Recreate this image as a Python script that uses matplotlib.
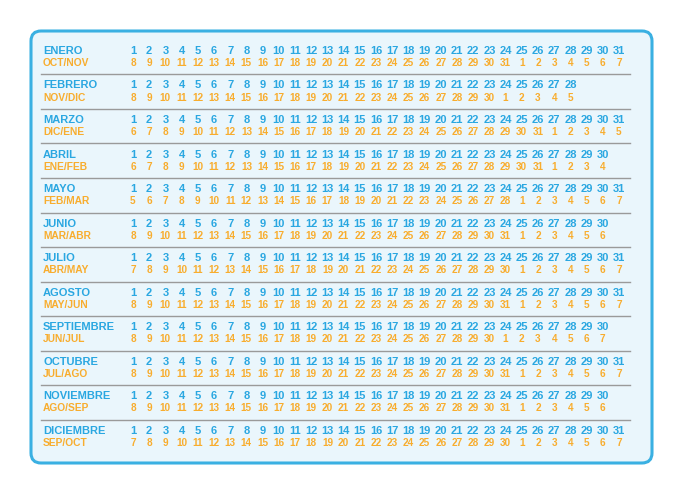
import matplotlib
matplotlib.use("Agg")
import matplotlib.pyplot as plt
from matplotlib.patches import FancyBboxPatch

plt.rcParams['font.family'] = ['Liberation Sans', 'DejaVu Sans']

months = ["ENERO", "FEBRERO", "MARZO", "ABRIL", "MAYO", "JUNIO", "JULIO",
          "AGOSTO", "SEPTIEMBRE", "OCTUBRE", "NOVIEMBRE", "DICIEMBRE"]
due_months = ["OCT/NOV", "NOV/DIC", "DIC/ENE", "ENE/FEB", "FEB/MAR", "MAR/ABR",
              "ABR/MAY", "MAY/JUN", "JUN/JUL", "JUL/AGO", "AGO/SEP", "SEP/OCT"]
month_days = [31, 28, 31, 30, 31, 30, 31, 31, 30, 31, 30, 31]
due_start = [8, 8, 6, 6, 5, 8, 7, 8, 8, 8, 8, 7]
due_month_len = [31, 30, 31, 31, 28, 31, 30, 31, 30, 31, 31, 30]

BLUE = "#2aa7e1"
ORANGE = "#f8ad2e"

fig = plt.figure(figsize=(6.8, 4.9), dpi=100)
ax = fig.add_axes([0, 0, 1, 1])
ax.set_xlim(0, 680)
ax.set_ylim(490, 0)
ax.axis("off")

box = FancyBboxPatch((31, 31), 621, 432, boxstyle="round,pad=0,rounding_size=10",
                     facecolor="#eaf6fc", edgecolor="#3ab0e2", linewidth=2.2)
ax.add_patch(box)

x0, dx = 133, 16.2
y0, dy = 51, 34.5
for i, m in enumerate(months):
    yt = y0 + i * dy
    yb = yt + 12
    ax.text(43, yt, m, color=BLUE, fontsize=8.0, fontweight="bold", va="center", ha="left")
    ax.text(43, yb, due_months[i], color=ORANGE, fontsize=7.4, fontweight="bold", va="center", ha="left")
    v = due_start[i]
    for d in range(1, month_days[i] + 1):
        x = x0 + (d - 1) * dx
        ax.text(x, yt, str(d), color=BLUE, fontsize=8.0, fontweight="bold", va="center", ha="center")
        ax.text(x, yb, str(v), color=ORANGE, fontsize=7.2, fontweight="bold", va="center", ha="center")
        v += 1
        if v > due_month_len[i]:
            v = 1
    if i < len(months) - 1:
        ly = yt + 23.5
        ax.plot([41, 630], [ly, ly], color="#9a9a9a", lw=1.0)

fig.savefig("out.png", dpi=100)
